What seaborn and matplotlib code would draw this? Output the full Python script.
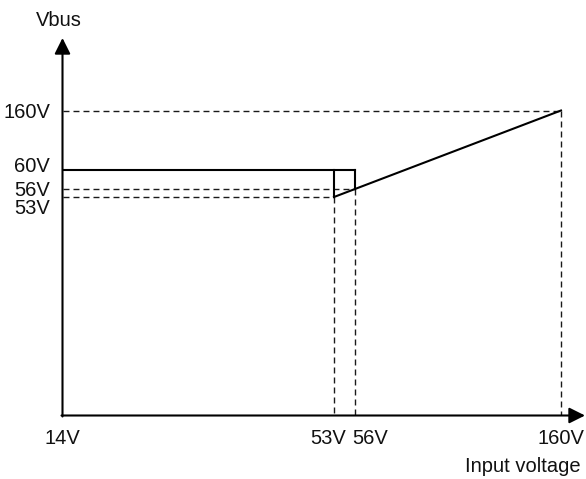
import numpy as np
import pandas as pd
import matplotlib
matplotlib.use("Agg")
import matplotlib.pyplot as plt
import matplotlib.transforms as mtransforms
import seaborn as sns

# ---------------- data (volts) ----------------
x_ticks = [14, 53, 56, 160]
x_tick_labels = ["14V", "53V", "56V", "160V"]
y_ticks = [53, 56, 60, 160]
y_tick_labels = ["53V", "56V", "60V", "160V"]

# solid curve pieces: (x list, y list)
hold_x, hold_y = [14, 56], [60, 60]          # 60V plateau
drop53_x, drop53_y = [53, 53], [60, 53]
drop56_x, drop56_y = [56, 56], [60, 56]
ramp_x, ramp_y = [53, 160], [53, 160]        # Vbus follows input

# dashed guide lines
guide_h_levels = [160, 56, 53]   # horizontal guides from the y axis
guide_v_levels = [160, 56, 53]   # vertical guides down to the x axis
axis_origin_x, axis_origin_y = 14, 0

# ---------------- schematic (piecewise) scales ----------------
W, H = 586, 479
x_anchor_v = [14, 53, 56, 160]
x_anchor_px = [62.5, 334, 355, 561]
y_anchor_v = [0, 53, 56, 60, 160]
y_anchor_px = [H - 415.5, H - 197, H - 189, H - 170, H - 110.5]


def piecewise(xp, fp):
    xp = np.asarray(xp, float)
    fp = np.asarray(fp, float)
    s0 = (fp[1] - fp[0]) / (xp[1] - xp[0])
    s1 = (fp[-1] - fp[-2]) / (xp[-1] - xp[-2])

    def f(v):
        v = np.asarray(v, float)
        out = np.interp(v, xp, fp)
        out = np.where(v < xp[0], fp[0] + (v - xp[0]) * s0, out)
        out = np.where(v > xp[-1], fp[-1] + (v - xp[-1]) * s1, out)
        return out
    return f


fx, ix = piecewise(x_anchor_v, x_anchor_px), piecewise(x_anchor_px, x_anchor_v)
fy, iy = piecewise(y_anchor_v, y_anchor_px), piecewise(y_anchor_px, y_anchor_v)

# ---------------- build frames ----------------
solid = pd.concat([
    pd.DataFrame({"x": hold_x, "y": hold_y, "seg": "hold"}),
    pd.DataFrame({"x": drop53_x, "y": drop53_y, "seg": "d53"}),
    pd.DataFrame({"x": drop56_x, "y": drop56_y, "seg": "d56"}),
    pd.DataFrame({"x": ramp_x, "y": ramp_y, "seg": "ramp"}),
], ignore_index=True)

dash_parts = []
for lv in guide_h_levels:
    dash_parts.append(pd.DataFrame({"x": [axis_origin_x, lv], "y": [lv, lv], "seg": f"h{lv}"}))
for lv in guide_v_levels:
    dash_parts.append(pd.DataFrame({"x": [lv, lv], "y": [lv, axis_origin_y], "seg": f"v{lv}"}))
dashed = pd.concat(dash_parts, ignore_index=True)

# ---------------- plot ----------------
sns.set_theme(style="white")
plt.rcParams["font.family"] = ["Liberation Sans Narrow", "Liberation Sans", "DejaVu Sans"]

fig = plt.figure(figsize=(W / 100, H / 100), dpi=100)
left = x_anchor_px[0] / W
bottom = y_anchor_px[0] / H
ax = fig.add_axes([left, bottom, 1 - left, 1 - bottom])
ax.set_xscale("function", functions=(fx, ix))
ax.set_yscale("function", functions=(fy, iy))

sns.lineplot(data=dashed, x="x", y="y", units="seg", estimator=None, sort=False,
             color="#1a1a1a", lw=1.0, linestyle=(0, (4.3, 2.9)), ax=ax)
sns.lineplot(data=solid, x="x", y="y", units="seg", estimator=None, sort=False,
             color="black", lw=1.5, ax=ax, solid_capstyle="projecting")

ax.set_xlim(float(ix(x_anchor_px[0])), float(ix(W)))
ax.set_ylim(float(iy(y_anchor_px[0])), float(iy(H)))
ax.set_xlabel("")
ax.set_ylabel("")
for s in ax.spines.values():
    s.set_visible(False)

# axes with arrows
x_tip = float(ix(585))
y_tip = float(iy(H - 38))
arrow_kw = dict(arrowstyle="-|>", lw=1.5, color="black", mutation_scale=24,
                shrinkA=0, shrinkB=0)
ax.annotate("", xy=(x_tip, axis_origin_y), xytext=(float(ix(61.5)), axis_origin_y),
            arrowprops=arrow_kw, annotation_clip=False)
ax.annotate("", xy=(axis_origin_x, y_tip), xytext=(axis_origin_x, float(iy(H - 416.5))),
            arrowprops=arrow_kw, annotation_clip=False)

# ticks
fs = 14.5
ax.set_xticks(x_ticks)
ax.set_xticklabels(x_tick_labels, fontsize=fs, color="#111111")
ax.set_yticks(y_ticks)
ax.set_yticklabels(y_tick_labels, fontsize=fs, color="#111111")
ax.tick_params(axis="both", length=0)
ax.tick_params(axis="x", pad=10, direction="in")
ax.tick_params(axis="y", pad=9, direction="in")
ax.minorticks_off()

# nudge crowded labels
x_shift = {"53V": -6, "56V": 15}
for lab in ax.get_xticklabels():
    dx = x_shift.get(lab.get_text(), 0)
    if dx:
        lab.set_transform(lab.get_transform() + mtransforms.ScaledTranslation(dx / 100, 0, fig.dpi_scale_trans))
y_shift = {"60V": 5, "56V": 1, "53V": -10}
for lab in ax.get_yticklabels():
    dy = y_shift.get(lab.get_text(), 0)
    if dy:
        lab.set_transform(lab.get_transform() + mtransforms.ScaledTranslation(0, dy / 100, fig.dpi_scale_trans))

# axis titles
ax.text(float(ix(59)), float(iy(H - 21)), "Vbus", fontsize=fs, ha="center", va="center",
        color="#111111", clip_on=False)
ax.text(float(ix(581)), float(iy(H - 467)), "Input voltage", fontsize=fs, ha="right", va="center",
        color="#111111", clip_on=False)

fig.savefig("out.png", dpi=100)
